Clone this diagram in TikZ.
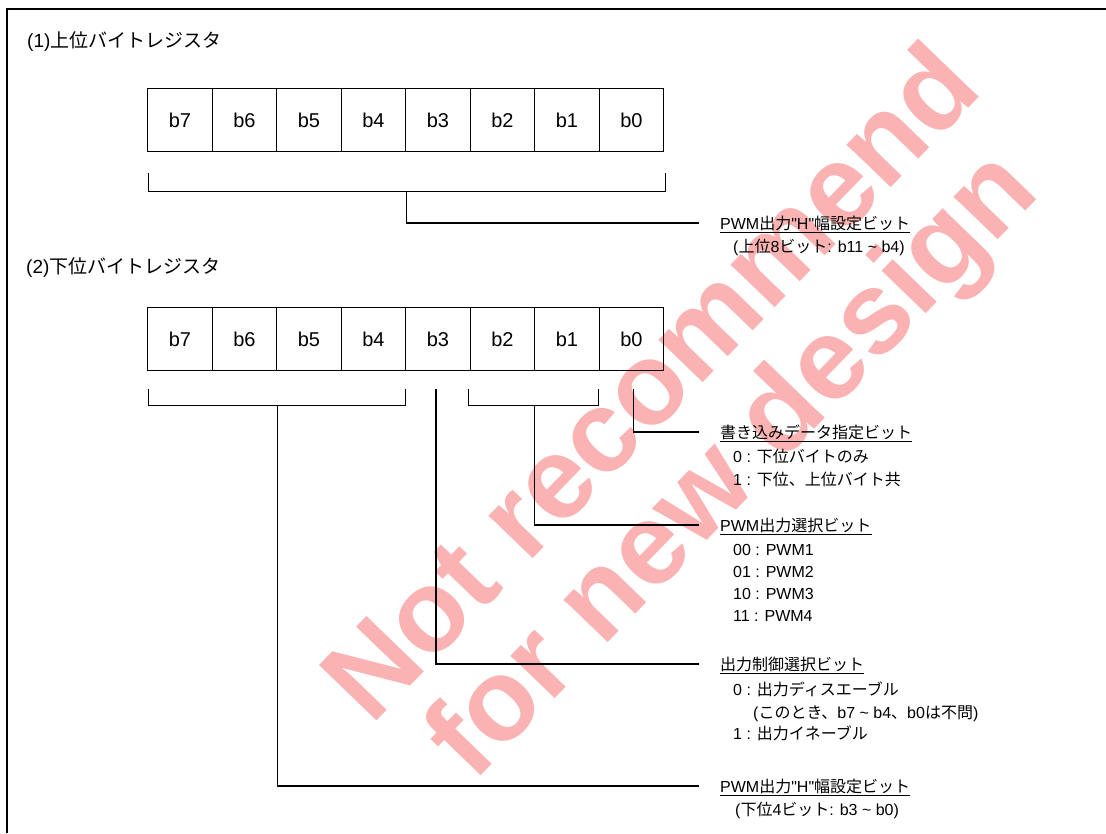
\documentclass[tikz,border=0pt]{standalone}
\usepackage{fontspec}
\setmainfont{Liberation Sans}[Ligatures=TeXOff]
\newfontfamily\jpfont{Noto Sans CJK JP}
\newcommand{\J}[1]{{\jpfont #1}}
\definecolor{wmpink}{RGB}{250,178,178}
\begin{document}
\begin{tikzpicture}[x=1pt,y=-1pt,
  cell/.style={draw, line width=1.3pt, minimum width=64.5pt, minimum height=63pt, inner sep=0pt, anchor=north west, font=\fontsize{20}{24}\selectfont},
  ln/.style={line width=1.2pt},
  ul/.style={line width=1pt},
  ttl/.style={anchor=west, inner sep=0pt, font=\fontsize{19}{23}\selectfont},
  lbl/.style={anchor=base west, inner sep=0pt, font=\fontsize{16}{20}\selectfont},
  wm/.style={text=wmpink, inner sep=0pt, rotate=46, font=\fontsize{116}{116}\selectfont\bfseries}]
\useasboundingbox (0,0) rectangle (1106,833);
% watermark
\node[wm] (wm1) at (648,380) {Not recommend};
\node[wm] (wm2) at (736,468) {for new design};
% frame
\draw[line width=2pt] (7,833) -- (7,9) -- (1106,9);
% titles
\node[ttl] (h1) at (27,42) {(1)\J{上位バイトレジスタ}};
\node[ttl] (h2) at (26,268) {(2)\J{下位バイトレジスタ}};
% upper register
\foreach \b [count=\i from 0] in {7,6,5,4,3,2,1,0}
  \node[cell] (u\b) at ({147+64.5*\i},88) {b\b};
% lower register
\foreach \b [count=\i from 0] in {7,6,5,4,3,2,1,0}
  \node[cell] (l\b) at ({147+64.5*\i},307) {b\b};
% labels
\node[lbl] (a1) at (720,229) {PWM\J{出力}"H"\J{幅設定ビット}};
\node[lbl] (a2) at (733,252) {(\J{上位}8\J{ビット}: b11 \textasciitilde{} b4)};
\node[lbl] (w1) at (720,438) {\J{書き込みデータ指定ビット}};
\node[lbl] (w2) at (733,462.5) {0 : \J{下位バイトのみ}};
\node[lbl] (w3) at (733,485) {1 : \J{下位、上位バイト共}};
\node[lbl] (p1) at (720,531) {PWM\J{出力選択ビット}};
\node[lbl] (p2) at (733,555) {00 : PWM1};
\node[lbl] (p3) at (733,577) {01 : PWM2};
\node[lbl] (p4) at (733,599) {10 : PWM3};
\node[lbl] (p5) at (733,621) {11 : PWM4};
\node[lbl] (c1) at (720,670) {\J{出力制御選択ビット}};
\node[lbl] (c2) at (733,695) {0 : \J{出力ディスエーブル}};
\node[lbl] (c3) at (753,718.5) {(\J{このとき、}b7 \textasciitilde{} b4\J{、}b0\J{は不問})};
\node[lbl] (c4) at (733,739) {1 : \J{出力イネーブル}};
\node[lbl] (d1) at (720,792) {PWM\J{出力}"H"\J{幅設定ビット}};
\node[lbl] (d2) at (735,815) {(\J{下位}4\J{ビット}: b3 \textasciitilde{} b0)};
% underlines
\foreach \n in {a1,w1,p1,c1,d1}
  \draw[ul] ([yshift=-3.5pt]\n.base west) -- ([yshift=-3.5pt]\n.base east);
% line end points
\foreach \n in {a1,w1,p1,c1,d1}
  \coordinate (\n e) at ([xshift=-21pt,yshift=6pt]\n.base west);
% upper bracket
\draw[ln] ([xshift=1.5pt,yshift=-21pt]u7.south west) -- ([xshift=1.5pt,yshift=-39pt]u7.south west)
  -- ([xshift=1pt,yshift=-39pt]u0.south east) -- ([xshift=1pt,yshift=-21pt]u0.south east);
\draw[ln] ([xshift=0.5pt,yshift=-39pt]u4.south east) |- (a1e);
% lower brackets
\draw[ln] ([xshift=1.5pt,yshift=-18pt]l7.south west) -- ([xshift=1.5pt,yshift=-34pt]l7.south west)
  -- ([xshift=-1pt,yshift=-34pt]l4.south east) -- ([xshift=-1pt,yshift=-18pt]l4.south east);
\draw[ln] ([xshift=0pt,yshift=-34pt]l6.south east) |- (d1e);
\draw[ln] ([xshift=-2pt,yshift=-18pt]l3.south) |- (c1e);
\draw[ln] ([xshift=-1pt,yshift=-18pt]l2.south west) -- ([xshift=-1pt,yshift=-34pt]l2.south west)
  -- ([xshift=-1.5pt,yshift=-34pt]l1.south east) -- ([xshift=-1.5pt,yshift=-18pt]l1.south east);
\draw[ln] ([xshift=-1pt,yshift=-34pt]l2.south east) |- (p1e);
\draw[ln] ([xshift=2pt,yshift=-18pt]l0.south) |- (w1e);
\end{tikzpicture}
\end{document}
